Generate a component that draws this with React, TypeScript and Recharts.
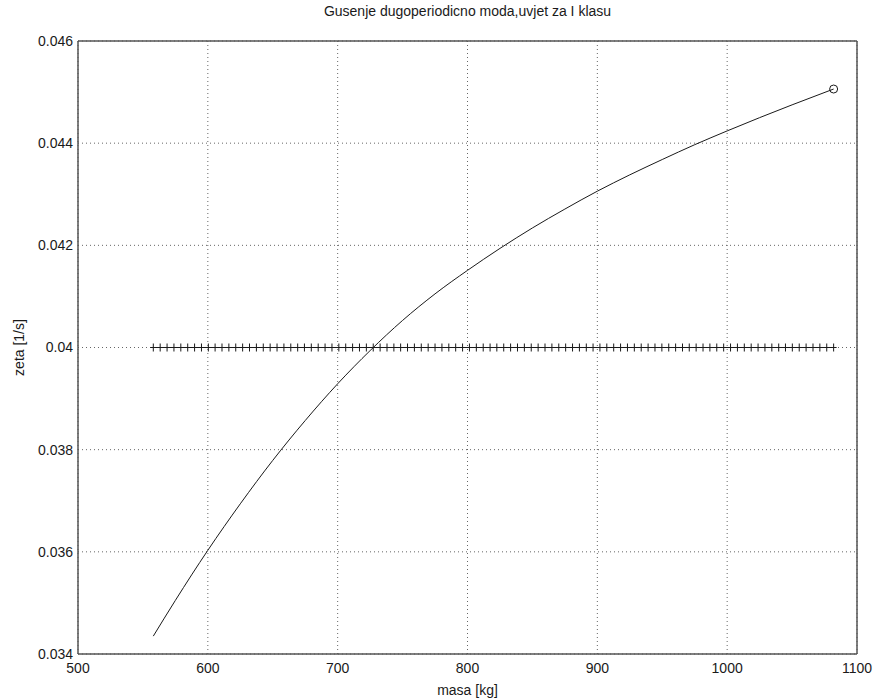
import React from "react";
import { LineChart, Line, XAxis, YAxis, CartesianGrid, ReferenceLine } from "recharts";

const title = "Gusenje dugoperiodicno moda,uvjet za I klasu";
const xLabel = "masa [kg]";
const yLabel = "zeta [1/s]";

const xTicks = [500, 600, 700, 800, 900, 1000, 1100];
const yTicks = [0.034, 0.036, 0.038, 0.04, 0.042, 0.044, 0.046];

// zeta curve
const curveMass = [558, 575, 600, 625, 650, 675, 700, 725, 750, 775, 800, 825, 850, 875, 900, 925, 950, 975, 1000, 1025, 1050, 1082];
const curveZeta = [0.03435, 0.03505, 0.03603, 0.03694, 0.03779, 0.03857, 0.03929, 0.03994, 0.04053, 0.04105, 0.04151, 0.04194, 0.04234, 0.04271, 0.04306, 0.04338, 0.04368, 0.04397, 0.04424, 0.0445, 0.04475, 0.04506];

// limit line (class I requirement) with "+" markers
const limitMass = [
  558.0, 563.3, 568.6, 573.9, 579.2, 584.5, 589.8, 595.1, 600.4, 605.6,
  610.9, 616.2, 621.5, 626.8, 632.1, 637.4, 642.7, 648.0, 653.3, 658.6,
  663.9, 669.2, 674.4, 679.7, 685.0, 690.3, 695.6, 700.9, 706.2, 711.5,
  716.8, 722.1, 727.4, 732.7, 738.0, 743.3, 748.5, 753.8, 759.1, 764.4,
  769.7, 775.0, 780.3, 785.6, 790.9, 796.2, 801.5, 806.8, 812.1, 817.4,
  822.6, 827.9, 833.2, 838.5, 843.8, 849.1, 854.4, 859.7, 865.0, 870.3,
  875.6, 880.9, 886.2, 891.5, 896.7, 902.0, 907.3, 912.6, 917.9, 923.2,
  928.5, 933.8, 939.1, 944.4, 949.7, 955.0, 960.3, 965.6, 970.8, 976.1,
  981.4, 986.7, 992.0, 997.3, 1002.6, 1007.9, 1013.2, 1018.5, 1023.8, 1029.1,
  1034.4, 1039.7, 1044.9, 1050.2, 1055.5, 1060.8, 1066.1, 1071.4, 1076.7, 1082.0,
];
const limitZeta = 0.04;

const curveData = curveMass.map((m, i) => ({ m, z: curveZeta[i] }));
const limitData = limitMass.map((m) => ({ m, z: limitZeta }));

const FONT = "'Liberation Sans', Arial, Helvetica, sans-serif";
const INK = "#1a1a1a";

const PlusDot = (props: any) => {
  const { cx, cy, index } = props;
  return (
    <path
      key={`p${index}`}
      d={`M${cx},${cy - 4}V${cy + 4}M${cx - 3},${cy}H${cx + 3}`}
      stroke={INK}
      strokeWidth={1}
      fill="none"
    />
  );
};

const EndCircle = (props: any) => {
  const { cx, cy, index } = props;
  if (index !== curveData.length - 1) return <g key={`c${index}`} />;
  return <circle key={`c${index}`} cx={cx} cy={cy} r={4} stroke={INK} strokeWidth={1} fill="none" />;
};

export default function App() {
  const W = 880;
  const H = 700;
  const left = 78;
  const right = 857;
  const top = 41;
  const bottom = 654;
  return (
    <div style={{ position: "absolute", left: 0, top: 0, width: W, height: H, background: "#fff", fontFamily: FONT }}>
      <LineChart
        width={W}
        height={H}
        margin={{ top: top, right: W - right, bottom: 0, left: 0 }}
        style={{ fontFamily: FONT }}
      >
        <CartesianGrid stroke="#666" strokeDasharray="1 3" strokeWidth={1} />
        <XAxis
          dataKey="m"
          type="number"
          domain={[500, 1100]}
          ticks={xTicks}
          allowDataOverflow
          height={H - bottom}
          tickLine={false}
          tickSize={6}
          tickMargin={3}
          axisLine={{ stroke: "#555", strokeWidth: 1.5 }}
          tick={{ fill: INK, fontSize: 14, fontFamily: FONT }}
          label={{ value: xLabel, position: "insideBottom", offset: 5, fill: INK, fontSize: 14, fontFamily: FONT }}
        />
        <YAxis
          type="number"
          domain={[0.034, 0.046]}
          ticks={yTicks}
          allowDataOverflow
          width={left}
          tickLine={false}
          tickSize={3}
          tickMargin={2}
          axisLine={{ stroke: "#555", strokeWidth: 1.5 }}
          tick={{ fill: INK, fontSize: 14, fontFamily: FONT }}
          label={{ value: yLabel, angle: -90, position: "insideLeft", offset: 19, fill: INK, fontSize: 14, fontFamily: FONT, style: { textAnchor: "middle" } }}
        />
        <ReferenceLine y={0.046} stroke="#555" strokeWidth={1.5} />
        <ReferenceLine x={1100} stroke="#555" strokeWidth={1.5} />
        <Line
          data={limitData}
          dataKey="z"
          type="linear"
          stroke={INK}
          strokeWidth={1}
          dot={PlusDot}
          activeDot={false}
          isAnimationActive={false}
        />
        <Line
          data={curveData}
          dataKey="z"
          type="monotone"
          stroke={INK}
          strokeWidth={1}
          dot={EndCircle}
          activeDot={false}
          isAnimationActive={false}
        />
        <text x={(left + right) / 2} y={16} textAnchor="middle" fontSize={14} fill={INK} fontFamily={FONT}>
          {title}
        </text>
      </LineChart>
    </div>
  );
}
